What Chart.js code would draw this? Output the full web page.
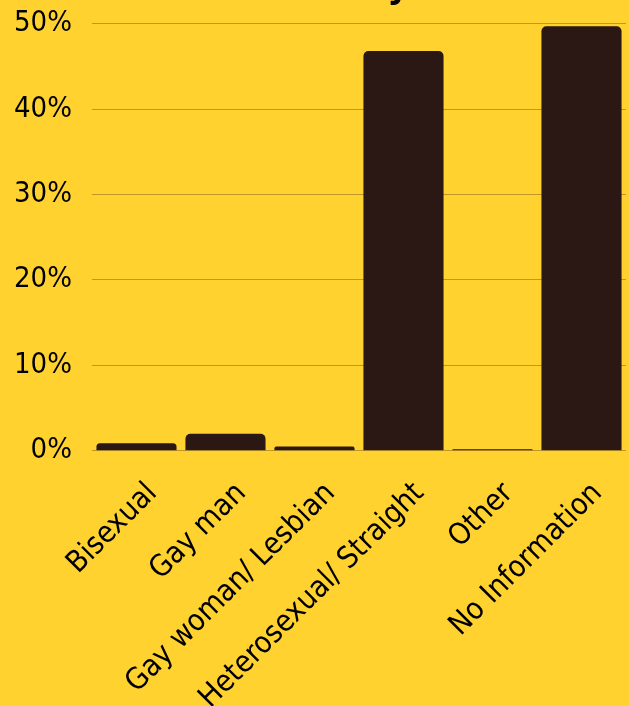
<!DOCTYPE html>
<html>
<head>
<meta charset="utf-8">
<script src="https://cdn.jsdelivr.net/npm/chart.js@4"></script>
<style>
  html, body { margin: 0; padding: 0; background: #FFD22F; overflow: hidden; }
  #wrap { position: absolute; left: 0; top: -40px; width: 629px; height: 773px; }
</style>
</head>
<body>
<div id="wrap"><canvas id="sexualityChart"></canvas></div>
<script>

// ==========================================
// Data
// ==========================================

const categories = [
    "Bisexual",
    "Gay man",
    "Gay woman/ Lesbian",
    "Heterosexual/ Straight",
    "Other",
    "No Information"
];

const shares = [0.9, 2.0, 0.5, 46.8, 0.2, 49.7];

const yTicks = [0, 10, 20, 30, 40, 50];

const chartTitle = "Sexuality";

const FONT = "'DejaVu Sans Condensed', 'Liberation Sans Narrow', Roboto, sans-serif";


// ==========================================
// Chart
// ==========================================

document.addEventListener("DOMContentLoaded", () => {

    const ctx = document.getElementById("sexualityChart");

    new Chart(ctx, {

        type: "bar",

        data: {
            labels: categories,
            datasets: [{
                data: shares,
                backgroundColor: "#2B1713",
                borderRadius: 5,
                borderSkipped: "start",
                barPercentage: 0.9,
                categoryPercentage: 1
            }]
        },

        options: {
            responsive: true,
            maintainAspectRatio: false,
            animation: false,
            layout: {
                padding: { left: 14, right: 3, top: 0, bottom: 0 }
            },
            plugins: {
                legend: { display: false },
                tooltip: { enabled: false },
                title: {
                    display: true,
                    text: chartTitle,
                    color: "#000",
                    font: { family: FONT, size: 38, weight: "bold" },
                    padding: { top: 4, bottom: 14 }
                }
            },
            scales: {
                x: {
                    grid: { display: false },
                    border: { display: false },
                    // rotated labels may hang past the left edge, like the original
                    afterFit: scale => {
                        scale.paddingLeft = 0;
                        scale.paddingRight = 0;
                    },
                    ticks: {
                        color: "#000",
                        maxRotation: 45,
                        minRotation: 45,
                        padding: 17,
                        labelOffset: 16,
                        font: { family: FONT, size: 30 }
                    }
                },
                y: {
                    min: 0,
                    max: 50,
                    border: { display: false },
                    grid: { color: "#BD9827", lineWidth: 1, drawTicks: false },
                    // chart.js reserves the tick padding twice, keep it once
                    afterFit: scale => {
                        scale.width -= 20;
                    },
                    afterBuildTicks: axis => {
                        axis.ticks = yTicks.map(v => ({ value: v }));
                    },
                    ticks: {
                        color: "#000",
                        padding: 20,
                        font: { family: FONT, size: 29 },
                        callback: v => v + "%"
                    }
                }
            }
        }

    });

});
</script>
</body>
</html>
